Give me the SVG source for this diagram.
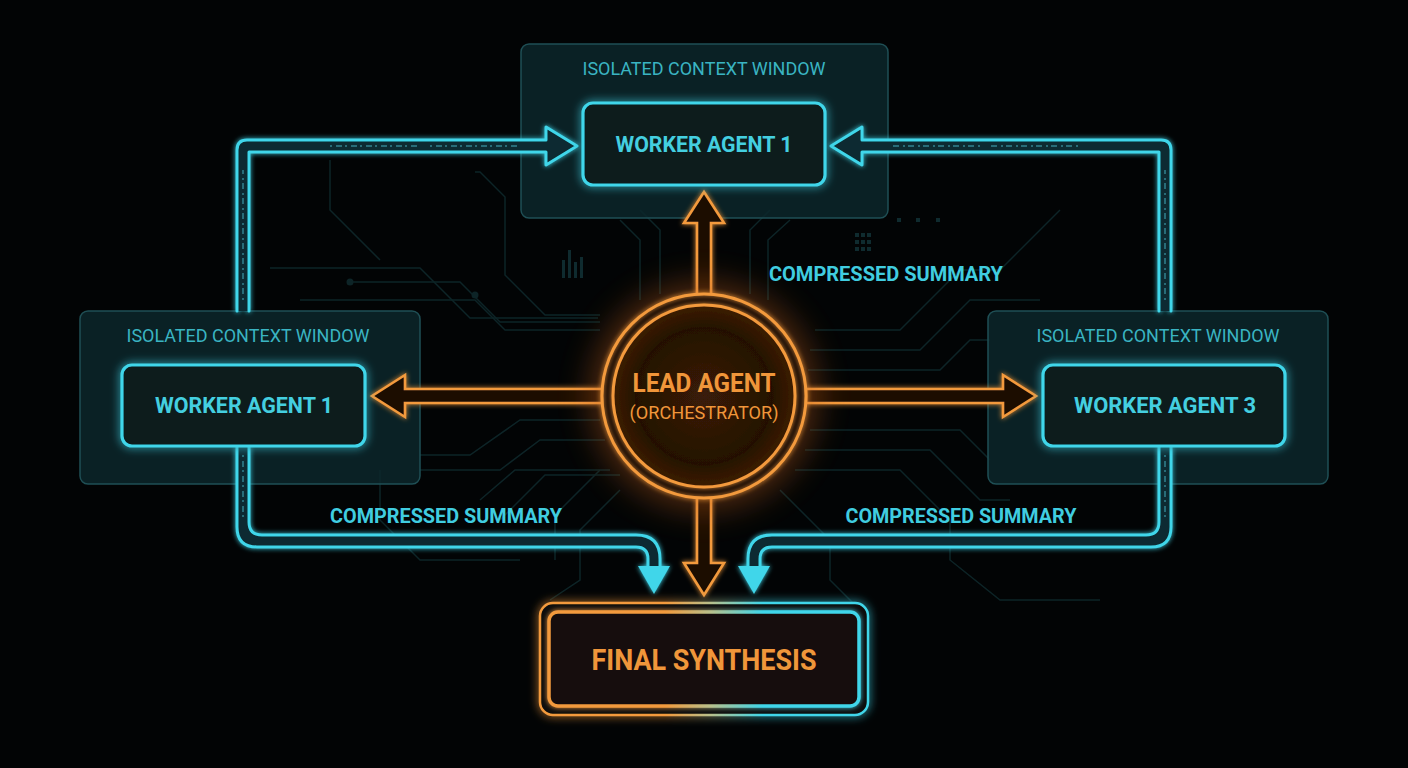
<svg xmlns="http://www.w3.org/2000/svg" width="1408" height="768" viewBox="0 0 1408 768">
<defs>
<style>
.win{fill:#0c272b;fill-opacity:0.85;stroke:#1f4f55;stroke-width:1.5}
.wtitle{font-family:Roboto,"Liberation Sans",sans-serif;font-size:19px;fill:#3ab4c2;text-anchor:middle}
.wbox{fill:#081a1d;stroke:#3fd6ea;stroke-width:3.2}
.wtext{font-family:Roboto,"Liberation Sans",sans-serif;font-size:22px;font-weight:700;fill:#44cfe0;text-anchor:middle}
.cs{font-family:Roboto,"Liberation Sans",sans-serif;font-size:20px;font-weight:700;fill:#40cde0;text-anchor:middle}
.chan{fill:none;stroke:#3fd6ea;stroke-width:3;stroke-linejoin:round;stroke-linecap:round}
.chanfill{fill:#0a2a30;stroke:none}
.dash{fill:none;stroke:#3a9aa6;stroke-width:2;stroke-dasharray:2 4 6 3;opacity:0.6}
.oarrow{fill:#1e0e04;stroke:#f39a3c;stroke-width:2.6;stroke-linejoin:miter}
.trace{fill:none;stroke:#0d2427;stroke-width:1.5}
.otext{font-family:Roboto,"Liberation Sans",sans-serif;fill:#f0963a;text-anchor:middle}
</style>
<filter id="glowC" x="-30%" y="-30%" width="160%" height="160%">
<feGaussianBlur in="SourceGraphic" stdDeviation="5" result="b"/>
<feMerge><feMergeNode in="b"/><feMergeNode in="SourceGraphic"/></feMerge>
</filter>
<filter id="glowS" x="-30%" y="-30%" width="160%" height="160%">
<feGaussianBlur in="SourceGraphic" stdDeviation="2.5" result="b"/>
<feMerge><feMergeNode in="b"/><feMergeNode in="SourceGraphic"/></feMerge>
</filter>
<filter id="halo" x="-50%" y="-50%" width="200%" height="200%">
<feGaussianBlur stdDeviation="16"/>
</filter>
<radialGradient id="core" cx="50%" cy="50%" r="50%">
<stop offset="0" stop-color="#3a1c07"/>
<stop offset="0.75" stop-color="#241105"/>
<stop offset="1" stop-color="#3d1d06"/>
</radialGradient>
<linearGradient id="fs" gradientUnits="userSpaceOnUse" x1="540" y1="0" x2="868" y2="0">
<stop offset="0" stop-color="#f39a3c"/>
<stop offset="0.38" stop-color="#f39a3c"/>
<stop offset="0.52" stop-color="#b9c08c"/>
<stop offset="0.68" stop-color="#3fd6ea"/>
<stop offset="1" stop-color="#3fd6ea"/>
</linearGradient>
</defs>

<rect x="0" y="0" width="1408" height="768" fill="#020405"/>

<g id="background-traces">
<path class="trace" d="M270,268 H420 L470,318 H598"/>
<path class="trace" d="M350,282 H460 L500,322 H600"/>
<circle cx="350" cy="282" r="3.5" fill="#0d2427"/>
<path class="trace" d="M300,300 H475 L505,330 H600"/>
<path class="trace" d="M475,172 H480 L505,197 V275 L545,315 H600"/>
<circle cx="475" cy="295" r="3.5" fill="#0d2427"/>
<path class="trace" d="M420,455 H470 L520,420 H600"/>
<path class="trace" d="M420,470 H500 L540,440 H605"/>
<path class="trace" d="M480,500 L515,470 H610"/>
<path class="trace" d="M500,520 L545,475 H620"/>
<path class="trace" d="M640,300 V240 L620,220"/>
<path class="trace" d="M660,294 V230 L640,210"/>
<path class="trace" d="M750,294 V230 L770,210"/>
<path class="trace" d="M768,300 V240 L790,220"/>
<path class="trace" d="M815,330 H900 L960,270 H1000 L1060,210"/>
<path class="trace" d="M810,350 H920 L970,300 H1040"/>
<path class="trace" d="M808,370 H940 L970,340 H990"/>
<path class="trace" d="M810,430 H960 L990,460"/>
<path class="trace" d="M805,450 H930 L980,500 H1010"/>
<path class="trace" d="M795,470 H900 L950,520 V560 L1000,600 H1100"/>
<path class="trace" d="M780,490 L830,540 V580 L860,610"/>
<path class="trace" d="M620,490 L580,530 V580 L550,600"/>
<path class="trace" d="M600,470 L555,515 V560"/>
<path class="trace" d="M380,470 V520 L420,560 H520"/>
<path class="trace" d="M330,160 V210 L380,260"/>
<g fill="#0f2b2f">
<rect x="562" y="260" width="3" height="18"/><rect x="568" y="250" width="3" height="28"/><rect x="574" y="262" width="3" height="16"/><rect x="580" y="257" width="3" height="21"/>
<rect x="855" y="233" width="4" height="4"/><rect x="861" y="233" width="4" height="4"/><rect x="867" y="233" width="4" height="4"/>
<rect x="855" y="240" width="4" height="4"/><rect x="861" y="240" width="4" height="4"/><rect x="867" y="240" width="4" height="4"/>
<rect x="855" y="247" width="4" height="4"/><rect x="861" y="247" width="4" height="4"/><rect x="867" y="247" width="4" height="4"/>
<rect x="897" y="218" width="4" height="4"/><rect x="916" y="218" width="4" height="4"/><rect x="936" y="218" width="4" height="4"/>
</g>
</g>

<g id="window-top">
<rect class="win" x="521" y="44" width="367" height="174" rx="8"/>
<text class="wtitle" x="704" y="75" textLength="243" lengthAdjust="spacingAndGlyphs">ISOLATED CONTEXT WINDOW</text>
</g>
<g id="window-left">
<rect class="win" x="80" y="311" width="340" height="173" rx="8"/>
<text class="wtitle" x="248" y="342" textLength="243" lengthAdjust="spacingAndGlyphs">ISOLATED CONTEXT WINDOW</text>
</g>
<g id="window-right">
<rect class="win" x="988" y="311" width="340" height="173" rx="8"/>
<text class="wtitle" x="1158" y="342" textLength="243" lengthAdjust="spacingAndGlyphs">ISOLATED CONTEXT WINDOW</text>
</g>

<g id="connectors">
<g filter="url(#glowS)">
<path class="chanfill" d="M237,311 V150 Q237,140 247,140 H546 V127 L577,146 L546,165 V152 H249 V311 Z"/>
<path class="chan" d="M237,311 V150 Q237,140 247,140 H546 V127 L577,146 L546,165 V152 H249 V311"/>
<path class="chanfill" d="M1171,311 V150 Q1171,140 1161,140 H862 V127 L831,146 L862,165 V152 H1159 V311 Z"/>
<path class="chan" d="M1171,311 V150 Q1171,140 1161,140 H862 V127 L831,146 L862,165 V152 H1159 V311"/>
<path class="chanfill" d="M237,447 V527 Q237,547 257,547 H636 Q648,547 648,559 V570 H660 V559 Q660,535 636,535 H262 Q249,535 249,522 V447 Z"/>
<path class="chan" d="M237,447 V527 Q237,547 257,547 H636 Q648,547 648,559 V568"/>
<path class="chan" d="M249,447 V522 Q249,535 262,535 H636 Q660,535 660,559 V568"/>
<polygon points="638,566 670,566 654,594" fill="#3fd6ea"/>
<path class="chanfill" d="M1171,447 V527 Q1171,547 1151,547 H772 Q760,547 760,559 V570 H748 V559 Q748,535 772,535 H1146 Q1159,535 1159,522 V447 Z"/>
<path class="chan" d="M1171,447 V527 Q1171,547 1151,547 H772 Q760,547 760,559 V568"/>
<path class="chan" d="M1159,447 V522 Q1159,535 1146,535 H772 Q748,535 748,559 V568"/>
<polygon points="738,566 770,566 754,594" fill="#3fd6ea"/>
</g>
<path class="dash" d="M243,300 V170 M330,146 H420 M430,146 H520"/>
<path class="dash" d="M1165,300 V170 M1078,146 H990 M980,146 H890"/>
<path class="dash" d="M243,455 V520"/>
<path class="dash" d="M1165,455 V520"/>
<g filter="url(#glowS)">
<polygon class="oarrow" points="697,296 697,223 684,223 704,192 724,223 711,223 711,296"/>
<polygon class="oarrow" points="697,497 697,563 684,563 704,595 724,563 711,563 711,497"/>
<polygon class="oarrow" points="602,389 405,389 405,375 372,396 405,417 405,403 602,403"/>
<polygon class="oarrow" points="806,389 1003,389 1003,375 1036,396 1003,417 1003,403 806,403"/>
</g>
</g>

<g id="worker-top">
<rect class="wbox" x="583" y="103" width="242" height="82" rx="10" filter="url(#glowC)"/>
<text class="wtext" x="704" y="152" textLength="177" lengthAdjust="spacingAndGlyphs">WORKER AGENT 1</text>
</g>
<g id="worker-left">
<rect class="wbox" x="122" y="365" width="243" height="81" rx="10" filter="url(#glowC)"/>
<text class="wtext" x="244" y="413" textLength="178" lengthAdjust="spacingAndGlyphs">WORKER AGENT 1</text>
</g>
<g id="worker-right">
<rect class="wbox" x="1043" y="365" width="242" height="81" rx="10" filter="url(#glowC)"/>
<text class="wtext" x="1165" y="413" textLength="182" lengthAdjust="spacingAndGlyphs">WORKER AGENT 3</text>
</g>

<g id="lead-agent">
<circle cx="704" cy="396" r="114" fill="#c4601a" opacity="0.4" filter="url(#halo)"/>
<circle cx="704" cy="396" r="102" fill="#140803"/>
<g filter="url(#glowS)" fill="none" stroke="#f39a3c" stroke-width="3">
<circle cx="704" cy="396" r="102"/>
<circle cx="704" cy="396" r="91" fill="url(#core)"/>
</g>
<text class="otext" x="704" y="392" font-size="25" font-weight="700" textLength="143" lengthAdjust="spacingAndGlyphs">LEAD AGENT</text>
<text class="otext" x="704" y="419" font-size="18" textLength="149" lengthAdjust="spacingAndGlyphs">(ORCHESTRATOR)</text>
</g>

<g id="final-synthesis">
<rect x="540" y="603" width="328" height="112" rx="13" fill="#0c0d0b" stroke="url(#fs)" stroke-width="2.5" filter="url(#glowC)"/>
<rect x="549" y="612" width="310" height="94" rx="9" fill="#14110c" stroke="url(#fs)" stroke-width="3.5" filter="url(#glowS)"/>
<text class="otext" x="704" y="670" font-size="29" font-weight="700" textLength="225" lengthAdjust="spacingAndGlyphs">FINAL SYNTHESIS</text>
</g>

<g id="labels">
<text class="cs" x="886" y="281" textLength="234" lengthAdjust="spacingAndGlyphs">COMPRESSED SUMMARY</text>
<text class="cs" x="446" y="523" textLength="232" lengthAdjust="spacingAndGlyphs">COMPRESSED SUMMARY</text>
<text class="cs" x="961" y="523" textLength="231" lengthAdjust="spacingAndGlyphs">COMPRESSED SUMMARY</text>
</g>
</svg>
